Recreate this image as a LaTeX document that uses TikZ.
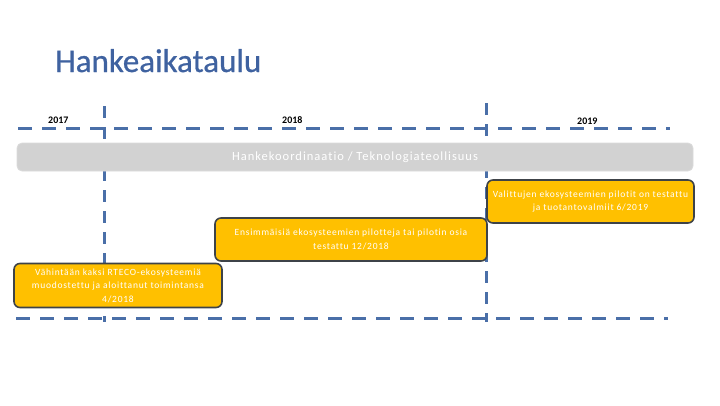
\documentclass[tikz,border=0pt]{standalone}
\usepackage{fontspec}
\setmainfont{Carlito}
\newfontfamily\spacedfont{Carlito}[LetterSpace=8, Ligatures=CommonOff]
\newfontfamily\titlefont{Carlito}[FakeBold=0.7]
\usetikzlibrary{positioning, calc}

\definecolor{lineblue}{HTML}{4A6FA8}
\definecolor{titleblue}{HTML}{3F62A0}
\definecolor{barfill}{HTML}{D2D2D2}
\definecolor{goalfill}{HTML}{FFC000}
\definecolor{goaldraw}{HTML}{3E4348}

\tikzset{
  timeline/.style={draw=lineblue, line width=3pt, dash pattern=on 14pt off 10pt},
  yearlabel/.style={font=\fontsize{10}{12}\selectfont\bfseries, text=black, inner sep=0pt},
  phasebar/.style={draw=barfill!80!white, fill=barfill, rounded corners=5pt, line width=0.8pt,
    minimum width=676pt, minimum height=28pt, text=white,
    font=\spacedfont\fontsize{12.5}{14}\selectfont},
  goalbox/.style={draw=goaldraw, fill=goalfill, rounded corners=6pt, line width=1.6pt,
    text=white, align=center, inner sep=2pt,
    font=\spacedfont\fontsize{9.5}{13.5}\selectfont},
}

\begin{document}
\begin{tikzpicture}[x=1pt, y=-1pt]
\useasboundingbox (0,0) rectangle (720,405);

\node[anchor=base west, inner sep=0pt, text=titleblue, font=\titlefont\fontsize{33}{38}\selectfont] (title) at (55,72) {Hankeaikataulu};

% years
\node[yearlabel, anchor=base west] (y2017) at (48,123) {2017};
\node[yearlabel, anchor=base west] (y2018) at (282,123) {2018};
\node[yearlabel, anchor=base west] (y2019) at (577,124) {2019};

% timeline coordinates
\coordinate (topleft) at (18,128);
\coordinate (topright) at (670,128);
\coordinate (botleft) at (16,318);
\coordinate (botright) at (668,318);
\coordinate (mark1top) at (104,106);
\coordinate (mark1bot) at (104,322);
\coordinate (mark2top) at (486,103);
\coordinate (mark2bot) at (486,322);

\draw[timeline] (topleft) -- (topright);
\draw[timeline] (botleft) -- (botright);
\draw[timeline, dash pattern=on 12pt off 9pt] (mark1top) -- (mark1bot);
\draw[timeline, dash pattern=on 12pt off 9pt] (mark2top) -- (mark2bot);

% phase
\node[phasebar] (coord) at (355,157) {Hankekoordinaatio / Teknologiateollisuus};

% goals
\node[goalbox, minimum width=208pt, minimum height=44pt] (goal1) at (118,285.5)
  {Vähintään kaksi RTECO-ekosysteemiä\\muodostettu ja aloittanut toimintansa\\4/2018};
\node[goalbox, minimum width=272pt, minimum height=43pt] (goal2) at (351,239.5)
  {Ensimmäisiä ekosysteemien pilotteja tai pilotin osia\\testattu 12/2018};
\node[goalbox, minimum width=207pt, minimum height=43pt] (goal3) at (590.5,201.5)
  {Valittujen ekosysteemien pilotit on testattu\\ja tuotantovalmiit 6/2019};
\end{tikzpicture}
\end{document}
